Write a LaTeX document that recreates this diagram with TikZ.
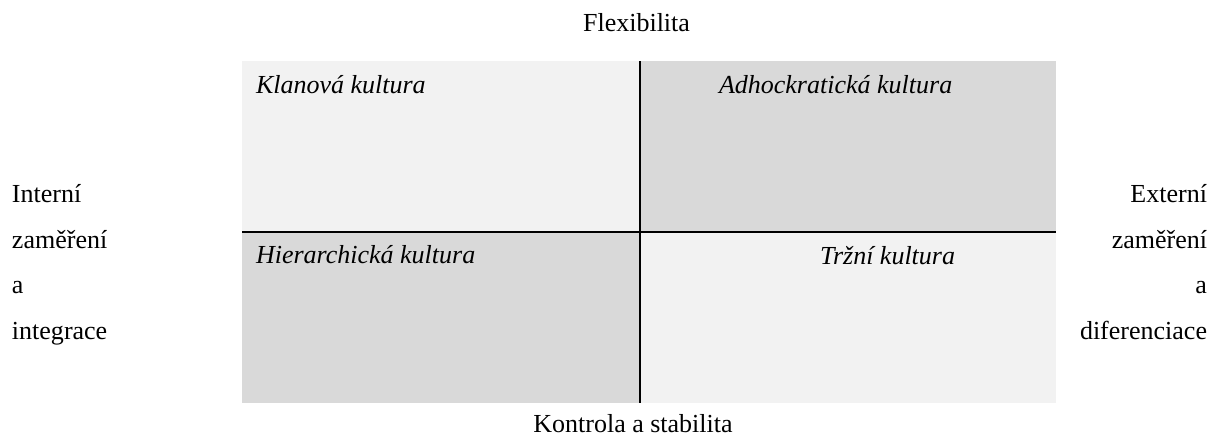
\documentclass[tikz,border=0pt]{standalone}
\usepackage{fontspec}
\setmainfont{Liberation Serif}
\definecolor{qlight}{HTML}{F2F2F2}
\definecolor{qdark}{HTML}{D9D9D9}
\begin{document}
\begin{tikzpicture}[x=1pt,y=-1pt,
  lbl/.style={inner sep=0pt, outer sep=0pt, font=\fontsize{26}{30}\selectfont},
  qlbl/.style={lbl, anchor=base west, font=\fontsize{26}{30}\selectfont\itshape},
  axis/.style={line width=2pt, black}]
\useasboundingbox (0,0) rectangle (1212,437);
% quadrant corners
\coordinate (tl) at (242,61);
\coordinate (tm) at (640,61);
\coordinate (tr) at (1056,61);
\coordinate (ml) at (242,232);
\coordinate (mm) at (640,232);
\coordinate (mr) at (1056,232);
\coordinate (bl) at (242,403);
\coordinate (bm) at (640,403);
\coordinate (br) at (1056,403);
% quadrant fills
\fill[qlight] (tl) rectangle (mm);
\fill[qdark] (tm) rectangle (mr);
\fill[qdark] (ml) rectangle (bm);
\fill[qlight] (mm) rectangle (br);
% axes
\draw[axis] (tm) -- (bm);
\draw[axis] (ml) -- (mr);
% quadrant labels
\node[qlbl] (klan) at (256,93) {Klanová kultura};
\node[qlbl] (adho) at (719,93) {Adhockratická kultura};
\node[qlbl] (hier) at (256,263) {Hierarchická kultura};
\node[qlbl] (trzn) at (820,264) {Tržní kultura};
% axis labels
\node[lbl, anchor=base] (flex) at (636.5,31.5) {Flexibilita};
\node[lbl, anchor=base] (kont) at (633,432) {Kontrola a stabilita};
\node[lbl, anchor=base west] (li1) at (12,202) {Interní};
\node[lbl, anchor=base west] (li2) at (12,248) {zaměření};
\node[lbl, anchor=base west] (li3) at (12,293) {a};
\node[lbl, anchor=base west] (li4) at (12,339) {integrace};
\node[lbl, anchor=base east] (re1) at (1207,202) {Externí};
\node[lbl, anchor=base east] (re2) at (1207,248) {zaměření};
\node[lbl, anchor=base east] (re3) at (1207,293) {a};
\node[lbl, anchor=base east] (re4) at (1207,339) {diferenciace};
\end{tikzpicture}
\end{document}
